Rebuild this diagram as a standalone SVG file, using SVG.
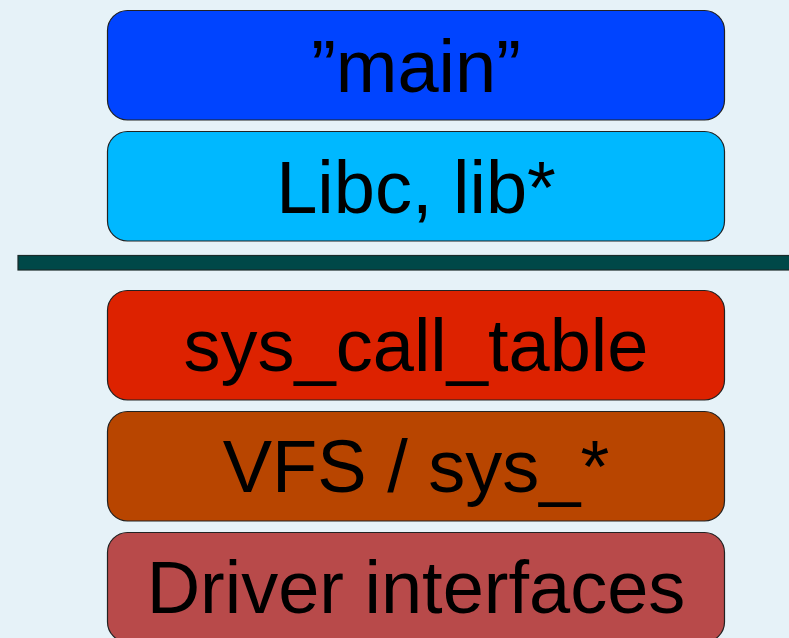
<svg xmlns="http://www.w3.org/2000/svg" width="789" height="638" viewBox="0 0 789 638">
<style>
.box{stroke:#222;stroke-width:1.2}
.t{font-family:"Liberation Sans",Arial,sans-serif;font-size:74px;fill:#000;text-anchor:middle}
</style>
<rect width="789" height="638" fill="#E6F2F8"/>
<g id="main"><rect class="box" x="107.5" y="10.5" width="617" height="109.5" rx="20" fill="#0044FF"/><text class="t" x="416" y="92">”main”</text></g>
<g id="libc"><rect class="box" x="107.5" y="131.5" width="617" height="109.5" rx="20" fill="#00B8FF"/><text class="t" x="416" y="213">Libc, lib*</text></g>
<g id="divider"><rect x="18" y="255.5" width="780" height="14.5" fill="#004848" stroke="#1a2a2a" stroke-width="1.2"/></g>
<g id="syscall"><rect class="box" x="107.5" y="290.5" width="617" height="109.5" rx="20" fill="#DD2200"/><text class="t" x="416" y="371">sys_call_table</text></g>
<g id="vfs"><rect class="box" x="107.5" y="411.5" width="617" height="109.5" rx="20" fill="#B84500"/><text class="t" x="416" y="492">VFS / sys_*</text></g>
<g id="driver"><rect class="box" x="107.5" y="532.5" width="617" height="109.5" rx="20" fill="#B84A4A"/><text class="t" x="416" y="613">Driver interfaces</text></g>
<g id="connectors"/>
</svg>
